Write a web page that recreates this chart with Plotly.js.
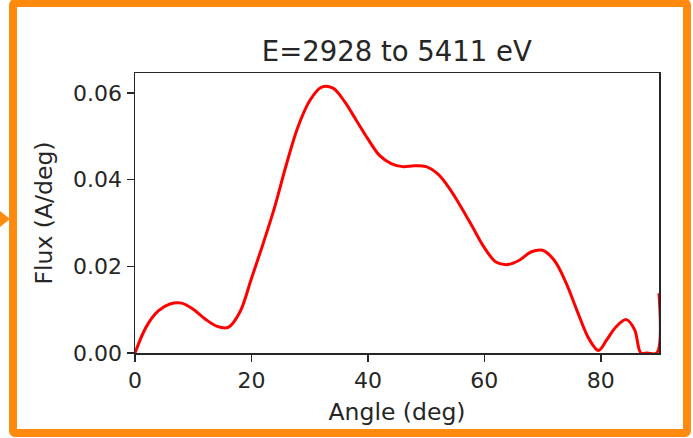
<!DOCTYPE html>
<html>
<head>
<meta charset="utf-8">
<script src="https://cdn.plot.ly/plotly-3.0.1.min.js"></script>
<style>
  html, body { margin: 0; padding: 0; background: #ffffff; }
  #wrap { position: relative; width: 693px; height: 438px; overflow: hidden; }
  #chart { position: absolute; left: 0; top: 0; width: 693px; height: 438px; }
  #frame { position: absolute; left: 9px; top: -1px; width: 666px; height: 422px;
           border: 8px solid #FF8A0E; border-radius: 6px; pointer-events: none; }
  #arrow { position: absolute; left: 0; top: 211px; width: 0; height: 0;
           border-top: 8px solid transparent; border-bottom: 8px solid transparent;
           border-left: 10px solid #FF8A0E; pointer-events: none; }
</style>
</head>
<body>
<div id="wrap">
  <div id="chart"></div>
  <div id="frame"></div>
  <div id="arrow"></div>
</div>
<script>
const titleText = "E=2928 to 5411 eV";
const xLabel = "Angle (deg)";
const yLabel = "Flux (A/deg)";
const xTicks = [0, 20, 40, 60, 80];
const yTicks = [0.00, 0.02, 0.04, 0.06];

const angle = [0, 2, 4, 6, 8, 10, 12, 14, 16, 18, 20, 22, 24, 26, 28, 30, 32, 34, 36, 38, 40, 42, 44, 46, 48, 50, 52, 54, 56, 58, 60, 62, 64, 66, 68, 70, 72, 74, 76, 78, 79.6, 81, 82.6, 84.4, 85.8, 86.9, 88, 89.6, 90];
const flux = [0, 0.0062, 0.0097, 0.0113, 0.0115, 0.0101, 0.0079, 0.0062, 0.0059, 0.0094, 0.0172, 0.0252, 0.0337, 0.0435, 0.0522, 0.0582, 0.0613, 0.0611, 0.0580, 0.0537, 0.0494, 0.0456, 0.0437, 0.0430, 0.0432, 0.0430, 0.0413, 0.0380, 0.0337, 0.0290, 0.0243, 0.0210, 0.0204, 0.0214, 0.0233, 0.0237, 0.0214, 0.0163, 0.0095, 0.0032, 0.0006, 0.0030, 0.0060, 0.0077, 0.0054, 0, 0, 0, 0.0138];

const font = "DejaVu Sans, sans-serif";
const ink = "#262626";

Plotly.newPlot("chart", [{
  x: angle, y: flux, type: "scatter", mode: "lines",
  line: { color: "#ff0000", width: 3, shape: "spline", smoothing: 1.0 },
  cliponaxis: true, hoverinfo: "skip"
}], {
  width: 693, height: 438,
  margin: { l: 134.5, r: 33.5, t: 72.5, b: 84.7, pad: 0 },
  paper_bgcolor: "#ffffff", plot_bgcolor: "#ffffff",
  showlegend: false,
  font: { family: font, color: ink, size: 22 },
  title: { text: titleText, font: { family: font, size: 27.5, color: ink },
           x: 0.5725, xanchor: "center", y: 0.883, yanchor: "middle" },
  xaxis: {
    range: [0, 90], tickvals: xTicks, ticktext: xTicks.map(String),
    ticks: "outside", ticklen: 7, tickwidth: 1.5, tickcolor: ink,
    showline: true, linecolor: ink, linewidth: 1.5, mirror: true,
    showgrid: false, zeroline: false,
    tickfont: { family: font, size: 22, color: ink },
    title: { text: xLabel, font: { family: font, size: 23.5, color: ink }, standoff: 11 }
  },
  yaxis: {
    range: [0, 0.0646], tickvals: yTicks, ticktext: yTicks.map(v => v.toFixed(2)),
    ticks: "outside", ticklen: 7, tickwidth: 1.5, tickcolor: ink,
    showline: true, linecolor: ink, linewidth: 1.5, mirror: true,
    showgrid: false, zeroline: false,
    tickfont: { family: font, size: 22, color: ink },
    title: { text: yLabel, font: { family: font, size: 23.5, color: ink }, standoff: 14 }
  }
}, { staticPlot: true, displayModeBar: false });
</script>
</body>
</html>
